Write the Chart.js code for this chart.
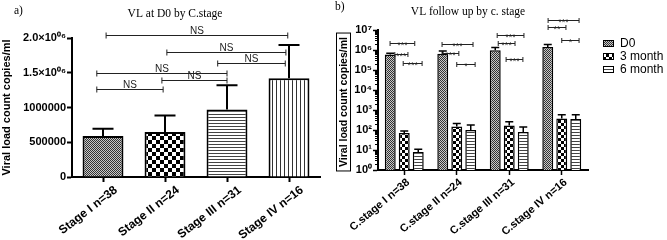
<!DOCTYPE html>
<html>
<head>
<meta charset="utf-8">
<script src="https://cdn.jsdelivr.net/npm/chart.js@4.4.1/dist/chart.umd.min.js"></script>
<style>
  html, body { margin: 0; padding: 0; background: #fff; }
  #wrap { position: relative; width: 667px; height: 240px; }
  #chartA { position: absolute; left: 0; top: 0; }
  #chartB { position: absolute; left: 330px; top: 0; }
</style>
</head>
<body>
<div id="wrap">
  <canvas id="chartA" width="330" height="240"></canvas>
  <canvas id="chartB" width="337" height="240"></canvas>
</div>
<script>
// ---- panel a: VL at D0 ----
const stagesA = ['Stage I n=38', 'Stage II n=24', 'Stage III n=31', 'Stage IV n=16'];
const meanD0 = [590000, 647000, 971000, 1420000];
const upperD0 = [695000, 886000, 1320000, 1900000];
const yTicksA = [0, 500000, 1000000, 1500000, 2000000];
const yTickLabelsA = ['0', '500000', '1000000', '1.5×10⁰⁶', '2.0×10⁰⁶'];
// significance brackets (category index from/to, y value, text)
const bracketFromA = [0.05, 1.03, 1.85, -0.1, 0.95, -0.1];
const bracketToA = [2.98, 2.95, 2.94, 2.0, 2.0, 0.97];
const bracketYA = [2040000, 1800000, 1640000, 1500000, 1390000, 1270000];
const bracketTextA = ['NS', 'NS', 'NS', 'NS', 'NS', 'NS'];

// ---- panel b: follow up ----
const stagesB = ['C.stage I n=38', 'C.stage II n=24', 'C.stage III n=31', 'C.stage IV n=16'];
const seriesB = ['D0', '3 month', '6 month'];
const mean3m = [70, 150, 170, 380];
const upper3m = [90, 210, 260, 580];
const mean6m = [8, 100, 80, 350];
const upper6m = [11, 180, 140, 580];
const yTicksB = [1, 10, 100, 1000, 10000, 100000, 1000000, 10000000];
const yTickLabelsB = ['10⁰', '10¹', '10²', '10³', '10⁴', '10⁵', '10⁶', '10⁷'];
const bracketFromB = [-0.27, -0.18, -0.02, 0.72, 0.72, 1.0, 1.77, 1.79, 1.94, 2.74, 2.74, 3.0];
const bracketToB = [0.20, 0.07, 0.34, 1.31, 1.04, 1.35, 2.28, 2.11, 2.26, 3.33, 3.08, 3.33];
const bracketYB = [2.2e6, 6.3e5, 2.2e5, 2.0e6, 7e5, 2.0e5, 5.6e6, 2.2e6, 3.5e5, 3.2e7, 1.4e7, 3.2e6];
const bracketTextB = ['***', '***', '***', '***', '***', '*', '***', '***', '***', '***', '**', '*'];

const SANS = '"Liberation Sans", Arial, sans-serif';
const SERIF = '"Liberation Serif", "Times New Roman", serif';

function makePattern(size, draw) {
  const c = document.createElement('canvas');
  c.width = size; c.height = size;
  const g = c.getContext('2d');
  g.fillStyle = '#fff';
  g.fillRect(0, 0, size, size);
  draw(g, size);
  return g.createPattern(c, 'repeat');
}
const stipple = makePattern(4, (g, n) => {
  for (let y = 0; y < n; y++) for (let x = 0; x < n; x++) {
    g.fillStyle = (x + y) % 2 === 0 ? '#333' : '#c8c8c8';
    g.fillRect(x, y, 1, 1);
  }
});
const checker = (n) => makePattern(n, (g) => {
  g.fillStyle = '#000';
  g.fillRect(0, 0, n / 2, n / 2);
  g.fillRect(n / 2, n / 2, n / 2, n / 2);
});
const hLines = makePattern(3, (g) => { g.fillStyle = '#444'; g.fillRect(0, 0, 3, 1); });
const vLines = makePattern(4, (g) => { g.fillStyle = '#333'; g.fillRect(0, 0, 1, 4); });

// error bars, brackets, titles, legend
const marks = {
  id: 'marks',
  afterDatasetsDraw(chart, args, o) {
    const ctx = chart.ctx, xs = chart.scales.x, ys = chart.scales.y;
    ctx.save();
    ctx.strokeStyle = '#000';
    ctx.lineWidth = o.errWidth;
    chart.data.datasets.forEach((ds, di) => {
      chart.getDatasetMeta(di).data.forEach((bar, i) => {
        const top = ys.getPixelForValue(ds.errUpper[i]);
        ctx.beginPath();
        ctx.moveTo(bar.x, bar.y);
        ctx.lineTo(bar.x, top);
        ctx.moveTo(bar.x - o.capWidth / 2, top);
        ctx.lineTo(bar.x + o.capWidth / 2, top);
        ctx.stroke();
      });
    });
    ctx.lineWidth = 1;
    ctx.strokeStyle = o.bracketColor;
    ctx.fillStyle = o.bracketColor;
    ctx.font = o.bracketFont;
    ctx.textAlign = 'center';
    ctx.textBaseline = 'alphabetic';
    o.from.forEach((f, k) => {
      const x1 = xs.getPixelForValue(f), x2 = xs.getPixelForValue(o.to[k]);
      const y = Math.round(ys.getPixelForValue(o.at[k])) + 0.5;
      ctx.beginPath();
      ctx.moveTo(x1, y); ctx.lineTo(x2, y);
      ctx.moveTo(x1, y - o.endTick); ctx.lineTo(x1, y + o.endTick);
      ctx.moveTo(x2, y - o.endTick); ctx.lineTo(x2, y + o.endTick);
      ctx.stroke();
      ctx.fillText(o.text[k], (x1 + x2) / 2, y + o.textShift);
    });
    ctx.restore();
  },
  afterDraw(chart, args, o) {
    const ctx = chart.ctx, area = chart.chartArea;
    ctx.save();
    ctx.fillStyle = '#000';
    ctx.font = '11.5px ' + SERIF;
    ctx.textBaseline = 'middle';
    ctx.textAlign = 'left';
    ctx.fillText(o.tag, o.tagX, o.tagY);
    ctx.textAlign = 'center';
    ctx.fillText(o.title, o.titleX, o.titleY);

    // rotated y axis title
    const cy = (area.top + area.bottom) / 2 + o.yTitleShift;
    ctx.save();
    ctx.translate(o.yTitleX, cy);
    ctx.rotate(-Math.PI / 2);
    ctx.font = 'bold ' + o.yTitleSize + 'px ' + SANS;
    ctx.fillText(o.yTitle, 0, 1);
    if (o.yTitleBox) {
      const w = ctx.measureText(o.yTitle).width + 8;
      ctx.lineWidth = 1;
      ctx.strokeStyle = '#000';
      ctx.strokeRect(-w / 2, -7, w, 14);
    }
    ctx.restore();

    // minor log ticks
    if (o.minorTicks) {
      const ys = chart.scales.y;
      ctx.strokeStyle = '#000';
      ctx.lineWidth = 1;
      ctx.beginPath();
      for (let e = 0; e < 7; e++) for (let m = 2; m < 10; m++) {
        const y = Math.round(ys.getPixelForValue(m * Math.pow(10, e))) + 0.5;
        ctx.moveTo(area.left - 3, y); ctx.lineTo(area.left, y);
      }
      ctx.stroke();
    }

    // legend
    if (o.legend) {
      ctx.font = '12px ' + SANS;
      ctx.textAlign = 'left';
      chart.data.datasets.forEach((ds, i) => {
        const x = area.right + o.legendDx, y = o.legendTop + i * o.legendStep;
        ctx.fillStyle = ds.backgroundColor;
        ctx.fillRect(x, y - 3, 11, 7);
        ctx.strokeStyle = '#000';
        ctx.lineWidth = 1;
        ctx.strokeRect(x + 0.5, y - 2.5, 10, 6);
        ctx.fillStyle = '#000';
        ctx.fillText(ds.label, x + 17, y + 1);
      });
    }
    ctx.restore();
  }
};

const axisFont = (size) => ({ family: SANS, size: size, weight: 'bold' });

new Chart(document.getElementById('chartA'), {
  type: 'bar',
  data: {
    labels: stagesA,
    datasets: [{
      data: meanD0,
      errUpper: upperD0,
      backgroundColor: [stipple, checker(8), hLines, vLines],
      borderColor: '#000',
      borderWidth: 2,
      barPercentage: 0.66,
      categoryPercentage: 1
    }]
  },
  options: {
    responsive: false,
    animation: false,
    layout: { padding: { top: 38, right: 10, left: 0, bottom: 0 } },
    plugins: {
      legend: { display: false },
      tooltip: { enabled: false },
      marks: {
        errWidth: 2, capWidth: 21,
        from: bracketFromA, to: bracketToA, at: bracketYA, text: bracketTextA,
        bracketColor: '#222', bracketFont: '10px ' + SANS, endTick: 3, textShift: -1.5,
        tag: 'a)', tagX: 14, tagY: 11,
        title: 'VL at D0 by C.stage', titleX: 175, titleY: 14,
        yTitle: 'Viral load count copies/ml', yTitleX: 6, yTitleSize: 11, yTitleShift: 0, yTitleBox: false
      }
    },
    scales: {
      x: {
        grid: { display: true, drawOnChartArea: false, offset: false, tickLength: 5, tickWidth: 2, tickColor: '#000' },
        border: { color: '#000', width: 2 },
        ticks: { color: '#000', font: axisFont(12), minRotation: 38, maxRotation: 38, padding: 1, labelOffset: 13 },
        afterFit: (s) => { s.height = 63; }
      },
      y: {
        min: 0, max: 2000000,
        afterBuildTicks: (s) => { s.ticks = yTicksA.map((v) => ({ value: v })); },
        grid: { display: true, drawOnChartArea: false, tickLength: 5, tickWidth: 2, tickColor: '#000' },
        border: { color: '#000', width: 2 },
        ticks: { color: '#000', font: axisFont(11), padding: 1, callback: (v, i) => yTickLabelsA[i] },
        afterFit: (s) => { s.width = 72; }
      }
    }
  },
  plugins: [marks]
});

const barStyleB = { borderColor: '#000', borderWidth: 1.5, barPercentage: 0.78, categoryPercentage: 0.8 };

new Chart(document.getElementById('chartB'), {
  type: 'bar',
  data: {
    labels: stagesB,
    datasets: [
      Object.assign({ label: seriesB[0], data: meanD0, errUpper: upperD0, backgroundColor: stipple }, barStyleB),
      Object.assign({ label: seriesB[1], data: mean3m, errUpper: upper3m, backgroundColor: checker(6) }, barStyleB),
      Object.assign({ label: seriesB[2], data: mean6m, errUpper: upper6m, backgroundColor: hLines }, barStyleB)
    ]
  },
  options: {
    responsive: false,
    animation: false,
    layout: { padding: { top: 30, right: 79, left: 0, bottom: 0 } },
    plugins: {
      legend: { display: false },
      tooltip: { enabled: false },
      marks: {
        errWidth: 1.5, capWidth: 8,
        from: bracketFromB, to: bracketToB, at: bracketYB, text: bracketTextB,
        bracketColor: '#222', bracketFont: '9px ' + SANS, endTick: 2.5, textShift: 4,
        tag: 'b)', tagX: 5, tagY: 7,
        title: 'VL follow up by c. stage', titleX: 138, titleY: 12,
        yTitle: 'Viral load count copies/ml', yTitleX: 13.5, yTitleSize: 10.5, yTitleShift: 2, yTitleBox: true,
        minorTicks: true,
        legend: true, legendDx: 15, legendTop: 43, legendStep: 13
      }
    },
    scales: {
      x: {
        grid: { display: true, drawOnChartArea: false, offset: false, tickLength: 5, tickWidth: 1.5, tickColor: '#000' },
        border: { color: '#000', width: 2 },
        ticks: { color: '#000', font: axisFont(11), minRotation: 40, maxRotation: 40, padding: 1, labelOffset: 4 },
        afterFit: (s) => { s.height = 70; }
      },
      y: {
        type: 'logarithmic',
        min: 1, max: 10000000,
        afterBuildTicks: (s) => { s.ticks = yTicksB.map((v) => ({ value: v })); },
        grid: { display: true, drawOnChartArea: false, tickLength: 5, tickWidth: 1.5, tickColor: '#000' },
        border: { color: '#000', width: 2 },
        ticks: { color: '#000', font: axisFont(11), padding: 1, autoSkip: false, callback: (v, i) => yTickLabelsB[i] },
        afterFit: (s) => { s.width = 48; }
      }
    }
  },
  plugins: [marks]
});
</script>
</body>
</html>
